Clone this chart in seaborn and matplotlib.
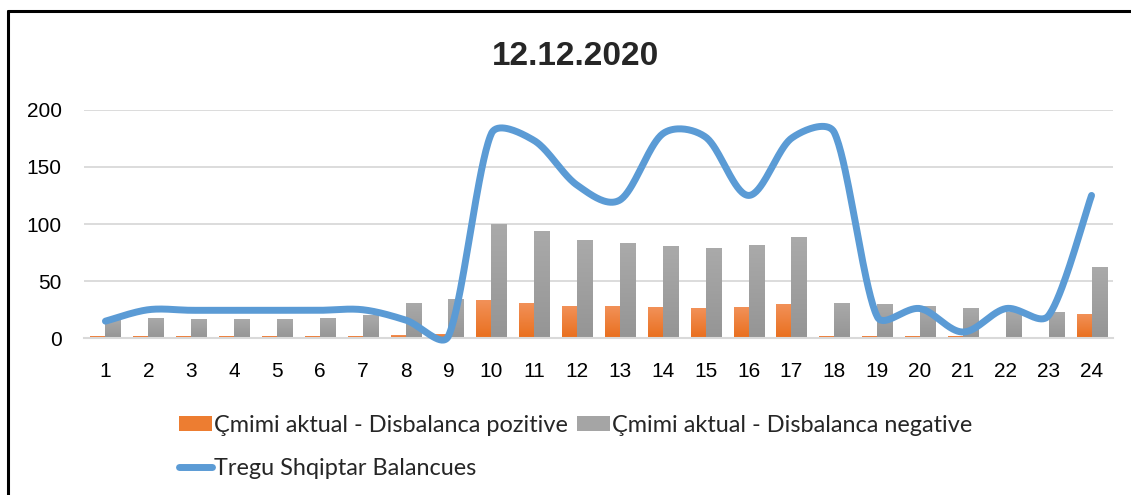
import numpy as np
import pandas as pd
import matplotlib
matplotlib.use("Agg")
import matplotlib.pyplot as plt
from matplotlib.patches import Patch
from matplotlib.lines import Line2D
from matplotlib.colors import LinearSegmentedColormap, to_hex
import seaborn as sns

# ---------------- data ----------------
hours = [str(h) for h in range(1, 25)]
positive = [2, 2, 2, 2, 2, 2, 2, 2.5, 3.5, 33.5, 31, 28,
            28, 27.5, 26.5, 27.5, 30, 2, 2, 2, 2, 1.5, 1.5, 21]
negative = [16, 18, 17, 17, 17, 18, 20, 31, 34, 100, 94, 86,
            83, 81, 79, 82, 89, 31, 30, 28, 26.5, 23, 23, 62]
balancues = [15, 25, 24.5, 24.5, 24.5, 24.5, 25, 16, 2, 179, 173, 134,
             121, 179, 176, 125, 175, 180, 19, 26, 5.5, 26, 20, 125]
title = "12.12.2020"
lbl_pos = "Çmimi aktual - Disbalanca pozitive"
lbl_neg = "Çmimi aktual - Disbalanca negative"
lbl_line = "Tregu Shqiptar Balancues"
yticks = [0, 50, 100, 150, 200]

ORANGE = "#ED7D31"
GRAY = "#A5A5A5"
BLUE = "#5B9BD5"
ORANGE_GRAD = ("#F2925A", "#E96F1E")
GRAY_GRAD = ("#AAAAAA", "#959595")

sns.set_theme(style="white")
plt.rcParams['font.family'] = ['Liberation Sans', 'DejaVu Sans']

W, H = 1131, 495
fig = plt.figure(figsize=(W / 100, H / 100), dpi=100)
ax_l, ax_r, ax_b, ax_t = 84, 1113, 338.3, 109.7
ax = fig.add_axes([ax_l / W, 1 - ax_b / H, (ax_r - ax_l) / W, (ax_b - ax_t) / H])

df = pd.DataFrame({
    "hour": hours * 2,
    "value": positive + negative,
    "series": [lbl_pos] * 24 + [lbl_neg] * 24,
})
sns.barplot(data=df, x="hour", y="value", hue="series", order=hours,
            hue_order=[lbl_pos, lbl_neg], palette=[ORANGE, GRAY],
            width=0.7, gap=0, saturation=1, legend=False, ax=ax, zorder=2,
            linewidth=0, edgecolor="none")

ax.set_xlim(-0.5, 23.5)
ax.set_ylim(0, 200)

# vertical gradient fill for each bar (Excel style), clipped to the bar
cmaps = {
    to_hex(ORANGE): LinearSegmentedColormap.from_list("og", [ORANGE_GRAD[1], ORANGE_GRAD[0]]),
    to_hex(GRAY): LinearSegmentedColormap.from_list("gg", [GRAY_GRAD[1], GRAY_GRAD[0]]),
}
grad = np.linspace(0, 1, 64).reshape(-1, 1)
for bar in list(ax.patches):
    x0, y0 = bar.get_x(), bar.get_y()
    w, h = bar.get_width(), bar.get_height()
    if h <= 0:
        continue
    cm = cmaps.get(to_hex(bar.get_facecolor()))
    if cm is None:
        continue
    im = ax.imshow(grad, cmap=cm, origin="lower", aspect="auto",
                   extent=[x0, x0 + w, y0, y0 + h], zorder=2.1,
                   interpolation="bilinear")
    im.set_clip_path(bar)
ax.set_xlim(-0.5, 23.5)
ax.set_ylim(0, 200)

# Excel-style smoothed line: Bezier through the points, arms limited
pts = np.array(balancues, dtype=float)
n = len(pts)
sx = (ax_r - ax_l) / 24.0          # px per category
sy = (ax_b - ax_t) / 200.0         # px per unit
P = np.column_stack([np.arange(n) * sx, pts * sy])   # pixel space
arms_out, arms_in = [], []
for i in range(n):
    prev = P[i - 1] if i > 0 else P[i]
    nxt = P[i + 1] if i < n - 1 else P[i]
    tan = (nxt - prev) / 6.0
    L = np.hypot(*tan)
    a_out = tan.copy()
    a_in = tan.copy()
    if i < n - 1 and L > 0:
        lim = np.hypot(*(P[i + 1] - P[i])) / 3.0
        if L > lim:
            a_out = tan * lim / L
    if i > 0 and L > 0:
        lim = np.hypot(*(P[i] - P[i - 1])) / 3.0
        if L > lim:
            a_in = tan * lim / L
    arms_out.append(a_out)
    arms_in.append(a_in)
t = np.linspace(0, 1, 40)[:, None]
segs = []
for i in range(n - 1):
    p0, p3 = P[i], P[i + 1]
    c1 = p0 + arms_out[i]
    c2 = p3 - arms_in[i + 1]
    b = ((1 - t) ** 3 * p0 + 3 * (1 - t) ** 2 * t * c1
         + 3 * (1 - t) * t ** 2 * c2 + t ** 3 * p3)
    segs.append(b)
curve = np.vstack(segs)
line_df = pd.DataFrame({"x": curve[:, 0] / sx, "y": curve[:, 1] / sy})
sns.lineplot(data=line_df, x="x", y="y", sort=False, estimator=None, ax=ax,
             color=BLUE, linewidth=5, zorder=3, clip_on=False,
             solid_capstyle="round")

ax.set_xlim(-0.5, 23.5)
ax.set_ylim(0, 200)
ax.set_yticks(yticks)
ax.set_yticklabels([str(v) for v in yticks])
ax.set_xlabel("")
ax.set_ylabel("")
ax.yaxis.grid(True, color="#D9D9D9", linewidth=1.3, zorder=0)
ax.set_axisbelow(True)
for s in ["left", "right", "top"]:
    ax.spines[s].set_visible(False)
ax.spines["bottom"].set_color("#D9D9D9")
ax.spines["bottom"].set_linewidth(1.5)
ax.tick_params(axis="both", length=0, labelsize=15, colors="black")
ax.tick_params(axis="x", pad=17)
ax.tick_params(axis="y", pad=16)

fig.text(575 / W, 1 - 56 / H, title, ha="center", va="center",
         fontsize=24, fontweight="bold")

handles = [Patch(facecolor=ORANGE, edgecolor="none"),
           Line2D([], [], color=BLUE, linewidth=5, solid_capstyle="round"),
           Patch(facecolor=GRAY, edgecolor="none"),
           Line2D([], [], color="none")]
labels = [lbl_pos, lbl_line, lbl_neg, ""]
leg = fig.legend(handles, labels, ncol=2, loc="upper left",
                 bbox_to_anchor=(179 / W, 1 - 415 / H),
                 frameon=False, borderpad=0, borderaxespad=0,
                 handlelength=1.4, handleheight=0.6, handletextpad=0.1,
                 columnspacing=0.38, labelspacing=0.95,
                 prop={"family": ["Lato", "Liberation Sans"], "size": 16.9})

# outer chart border (top and left edges visible)
fig.add_artist(Line2D([7.5 / W, 7.5 / W], [0, 1 - 11 / H],
                      transform=fig.transFigure, color="black", linewidth=2.2))
fig.add_artist(Line2D([7.5 / W, 1], [1 - 11 / H, 1 - 11 / H],
                      transform=fig.transFigure, color="black", linewidth=2.2))

fig.savefig("out.png", dpi=100, facecolor="white")
